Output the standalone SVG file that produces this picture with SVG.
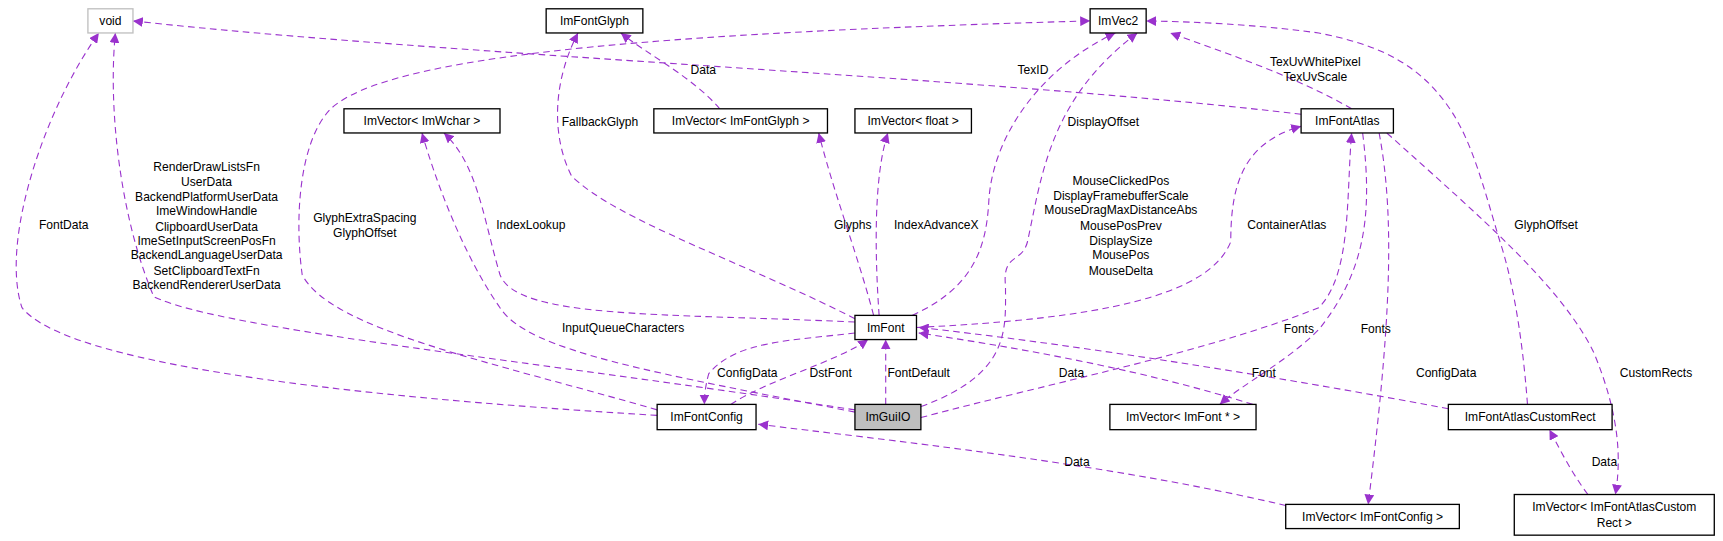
<svg xmlns="http://www.w3.org/2000/svg" width="1723" height="541" viewBox="0 0 1723 541">
<defs>
<marker id="a" viewBox="0 0 10 10" refX="10" refY="5" markerWidth="9" markerHeight="9" orient="auto" markerUnits="userSpaceOnUse"><path d="M0,0 L10,5 L0,10 z" fill="#9a32cd"/></marker>
<style>
.n rect{fill:#fff;stroke:#000;stroke-width:1.2}
.n text,.l text{font-family:"Liberation Sans",Arial,sans-serif;font-size:11px;fill:#000}
.n text{text-anchor:middle}
.l text{text-anchor:middle}
.e path{fill:none;stroke:#9a32cd;stroke-width:1;stroke-dasharray:6,4;marker-end:url(#a)}
</style>
</defs>
<rect width="1723" height="541" fill="#fff"/>
<g transform="scale(1.0989)">
<g class="e" id="connectors">
<path d="M1184,104 C900,70 400,50 121,19"/>
<path d="M778,373 C500,330 200,300 140,270 C110,200 98,100 105,30"/>
<path d="M598,378 C300,360 60,330 20,280 C0,220 40,100 90,30"/>
<path d="M598,373 C450,330 300,300 275,250 C268,200 272,130 300,100 C350,50 600,30 992,19"/>
<path d="M778,290 C680,240 560,200 520,160 C500,120 505,70 526,30"/>
<path d="M655,99 C630,70 590,50 565,30"/>
<path d="M778,293 C600,285 470,290 455,250 C440,200 435,150 404,121"/>
<path d="M778,375 C600,340 480,320 455,280 C420,230 395,160 384,121"/>
<path d="M795,287 C780,230 760,180 745,121"/>
<path d="M800,287 C796,230 795,160 808,121"/>
<path d="M830,287 C890,260 898,220 900,180 C905,120 950,60 1015,30"/>
<path d="M838,370 C920,340 915,300 915,260 C912,230 930,240 935,220 C948,160 955,90 1035,30"/>
<path d="M1230,99 C1180,70 1120,50 1065,30"/>
<path d="M1390,368 C1385,300 1375,250 1365,220 C1350,170 1340,130 1320,100 C1290,55 1250,40 1200,30 C1140,22 1090,20 1043,19"/>
<path d="M834,298 C1000,290 1100,270 1120,220 C1120,170 1130,130 1184,115"/>
<path d="M838,380 C950,350 1100,320 1200,280 C1230,250 1225,180 1230,121"/>
<path d="M1240,121 C1250,200 1240,250 1200,300 C1170,330 1130,350 1110,368"/>
<path d="M1255,121 C1270,200 1265,300 1245,459"/>
<path d="M1262,121 C1350,200 1420,260 1450,320 C1475,380 1475,420 1470,450"/>
<path d="M1445,450 C1430,430 1420,410 1410,391"/>
<path d="M1318,372 C1150,340 950,310 836,298"/>
<path d="M1140,368 C1050,340 950,320 836,303"/>
<path d="M806,368 L806,309"/>
<path d="M665,368 C700,345 760,330 790,309"/>
<path d="M778,303 C720,310 670,310 645,340 C642,350 641,360 641,368"/>
<path d="M1170,460 C1000,420 800,400 690,386"/>
</g>
<g class="l" id="labels">
<text x="940" y="67">TexID</text>
<text x="188" y="156">RenderDrawListsFn</text>
<text x="188" y="169">UserData</text>
<text x="188" y="183">BackendPlatformUserData</text>
<text x="188" y="196">ImeWindowHandle</text>
<text x="188" y="210">ClipboardUserData</text>
<text x="188" y="223">ImeSetInputScreenPosFn</text>
<text x="188" y="236">BackendLanguageUserData</text>
<text x="188" y="250">SetClipboardTextFn</text>
<text x="188" y="263">BackendRendererUserData</text>
<text x="58" y="208">FontData</text>
<text x="332" y="202">GlyphExtraSpacing</text>
<text x="332" y="216">GlyphOffset</text>
<text x="546" y="115">FallbackGlyph</text>
<text x="640" y="67">Data</text>
<text x="483" y="208">IndexLookup</text>
<text x="567" y="302">InputQueueCharacters</text>
<text x="776" y="208">Glyphs</text>
<text x="852" y="208">IndexAdvanceX</text>
<text x="1004" y="115">DisplayOffset</text>
<text x="1020" y="168">MouseClickedPos</text>
<text x="1020" y="182">DisplayFramebufferScale</text>
<text x="1020" y="195">MouseDragMaxDistanceAbs</text>
<text x="1020" y="209">MousePosPrev</text>
<text x="1020" y="223">DisplaySize</text>
<text x="1020" y="236">MousePos</text>
<text x="1020" y="250">MouseDelta</text>
<text x="1197" y="60">TexUvWhitePixel</text>
<text x="1197" y="74">TexUvScale</text>
<text x="1407" y="208">GlyphOffset</text>
<text x="1171" y="208">ContainerAtlas</text>
<text x="1182" y="303">Fonts</text>
<text x="1252" y="303">Fonts</text>
<text x="1316" y="343">ConfigData</text>
<text x="1507" y="343">CustomRects</text>
<text x="1460" y="424">Data</text>
<text x="1150" y="343">Font</text>
<text x="975" y="343">Data</text>
<text x="836" y="343">FontDefault</text>
<text x="756" y="343">DstFont</text>
<text x="680" y="343">ConfigData</text>
<text x="980" y="424">Data</text>
</g>
<g class="n" id="void"><rect x="80" y="8" width="41" height="22" style="stroke:#bfbfbf"/><text x="100.5" y="23">void</text></g>
<g class="n" id="ImFontGlyph"><rect x="497" y="8" width="88" height="22"/><text x="541" y="23">ImFontGlyph</text></g>
<g class="n" id="ImVec2"><rect x="992" y="8" width="51" height="22"/><text x="1017.5" y="23">ImVec2</text></g>
<g class="n" id="ImVectorImWchar"><rect x="313" y="99" width="142" height="22"/><text x="384" y="114">ImVector&lt; ImWchar &gt;</text></g>
<g class="n" id="ImVectorImFontGlyph"><rect x="595" y="99" width="158" height="22"/><text x="674" y="114">ImVector&lt; ImFontGlyph &gt;</text></g>
<g class="n" id="ImVectorFloat"><rect x="778" y="99" width="106" height="22"/><text x="831" y="114">ImVector&lt; float &gt;</text></g>
<g class="n" id="ImFontAtlas"><rect x="1184" y="99" width="84" height="22"/><text x="1226" y="114">ImFontAtlas</text></g>
<g class="n" id="ImFont"><rect x="778" y="287" width="56" height="22"/><text x="806" y="302">ImFont</text></g>
<g class="n" id="ImFontConfig"><rect x="598" y="368" width="90" height="23"/><text x="643" y="383">ImFontConfig</text></g>
<g class="n" id="ImGuiIO"><rect x="778" y="368" width="60" height="23" style="fill:#bfbfbf"/><text x="808" y="383">ImGuiIO</text></g>
<g class="n" id="ImVectorImFontPtr"><rect x="1010" y="368" width="133" height="23"/><text x="1076.5" y="383">ImVector&lt; ImFont * &gt;</text></g>
<g class="n" id="ImFontAtlasCustomRect"><rect x="1318" y="368" width="149" height="23"/><text x="1392.5" y="383">ImFontAtlasCustomRect</text></g>
<g class="n" id="ImVectorImFontConfig"><rect x="1170" y="459" width="158" height="22"/><text x="1249" y="474">ImVector&lt; ImFontConfig &gt;</text></g>
<g class="n" id="ImVectorImFontAtlasCustomRect"><rect x="1378" y="450" width="182" height="37"/><text x="1469" y="465">ImVector&lt; ImFontAtlasCustom</text><text x="1469" y="480">Rect &gt;</text></g>
</g>
</svg>
